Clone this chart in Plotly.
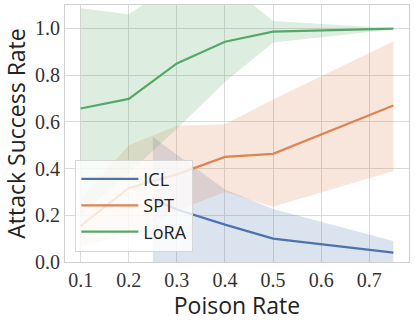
import plotly.graph_objects as go

# poison rates
x_rates = [0.1, 0.2, 0.3, 0.4, 0.5, 0.75]
icl_rates = [0.25, 0.3, 0.4, 0.5, 0.75]

# mean attack success rate
icl_mean = [0.27, 0.225, 0.16, 0.10, 0.04]
spt_mean = [0.155, 0.317, 0.375, 0.45, 0.463, 0.67]
lora_mean = [0.657, 0.698, 0.85, 0.943, 0.986, 0.999]

# shaded bands (lower / upper)
icl_lo = [0.0, 0.0, 0.0, 0.0, 0.0]
icl_hi = [0.535, 0.46, 0.31, 0.227, 0.09]
spt_lo = [0.065, 0.12, 0.22, 0.30, 0.236, 0.39]
spt_hi = [0.27, 0.50, 0.583, 0.59, 0.695, 0.945]
lora_lo = [0.20, 0.38, 0.57, 0.77, 0.94, 0.995]
lora_hi = [1.086, 1.06, 1.2, 1.2, 1.031, 1.0]

series = [
    ("ICL", icl_rates, icl_mean, icl_lo, icl_hi, "#4c72b0", "rgba(76,114,176,0.2)"),
    ("SPT", x_rates, spt_mean, spt_lo, spt_hi, "#dd8452", "rgba(221,132,82,0.2)"),
    ("LoRA", x_rates, lora_mean, lora_lo, lora_hi, "#55a868", "rgba(85,168,104,0.2)"),
]

fig = go.Figure()

# bands first so the lines sit on top
for name, xs, mean, lo, hi, color, fill in series:
    fig.add_trace(go.Scatter(
        x=list(xs) + list(xs)[::-1],
        y=list(hi) + list(lo)[::-1],
        fill='toself',
        fillcolor=fill,
        line=dict(width=0),
        mode='lines',
        hoverinfo='skip',
        showlegend=False
    ))

for name, xs, mean, lo, hi, color, fill in series:
    fig.add_trace(go.Scatter(
        x=xs,
        y=mean,
        mode='lines',
        name=name,
        line=dict(color=color, width=2.2)
    ))

tick_font = dict(family="'Liberation Serif', 'DejaVu Serif', serif", size=20, color="#333333")
title_font = dict(family="Open Sans", size=23, color="#222222")

fig.update_layout(
    width=415,
    height=321,
    margin=dict(l=65, r=6, t=5, b=59),
    plot_bgcolor='white',
    paper_bgcolor='white',
    showlegend=True,
    legend=dict(
        x=0.03, y=0.04, xanchor='left', yanchor='bottom',
        bgcolor='rgba(255,255,255,0.8)',
        bordercolor='#d6d6d6', borderwidth=1,
        font=dict(family="Open Sans", size=18, color="#222222"),
        tracegroupgap=0, itemwidth=57,
    ),
    xaxis=dict(
        range=[0.0675, 0.7825],
        tickvals=[0.1, 0.2, 0.3, 0.4, 0.5, 0.6, 0.7],
        ticktext=["0.1", "0.2", "0.3", "0.4", "0.5", "0.6", "0.7"],
        tickfont=tick_font,
        title=dict(text="Poison Rate", font=title_font, standoff=6),
        showgrid=True, gridcolor='#dadada', gridwidth=1,
        showline=True, linecolor='#d0d0d0', mirror=True,
        zeroline=False, ticks='', automargin=False,
    ),
    yaxis=dict(
        range=[0, 1.1],
        tickvals=[0.0, 0.2, 0.4, 0.6, 0.8, 1.0],
        ticktext=["0.0", "0.2", "0.4", "0.6", "0.8", "1.0"],
        tickfont=tick_font,
        title=dict(text="Attack Success Rate", font=title_font, standoff=6),
        showgrid=True, gridcolor='#dadada', gridwidth=1,
        showline=True, linecolor='#d0d0d0', mirror=True,
        zeroline=False, ticks='', automargin=False,
    ),
)

# drop the default page margin so the figure sits at the window's corner
fig.write_html("out.html", config={"displayModeBar": False},
               post_script="document.body.style.margin='0';")
